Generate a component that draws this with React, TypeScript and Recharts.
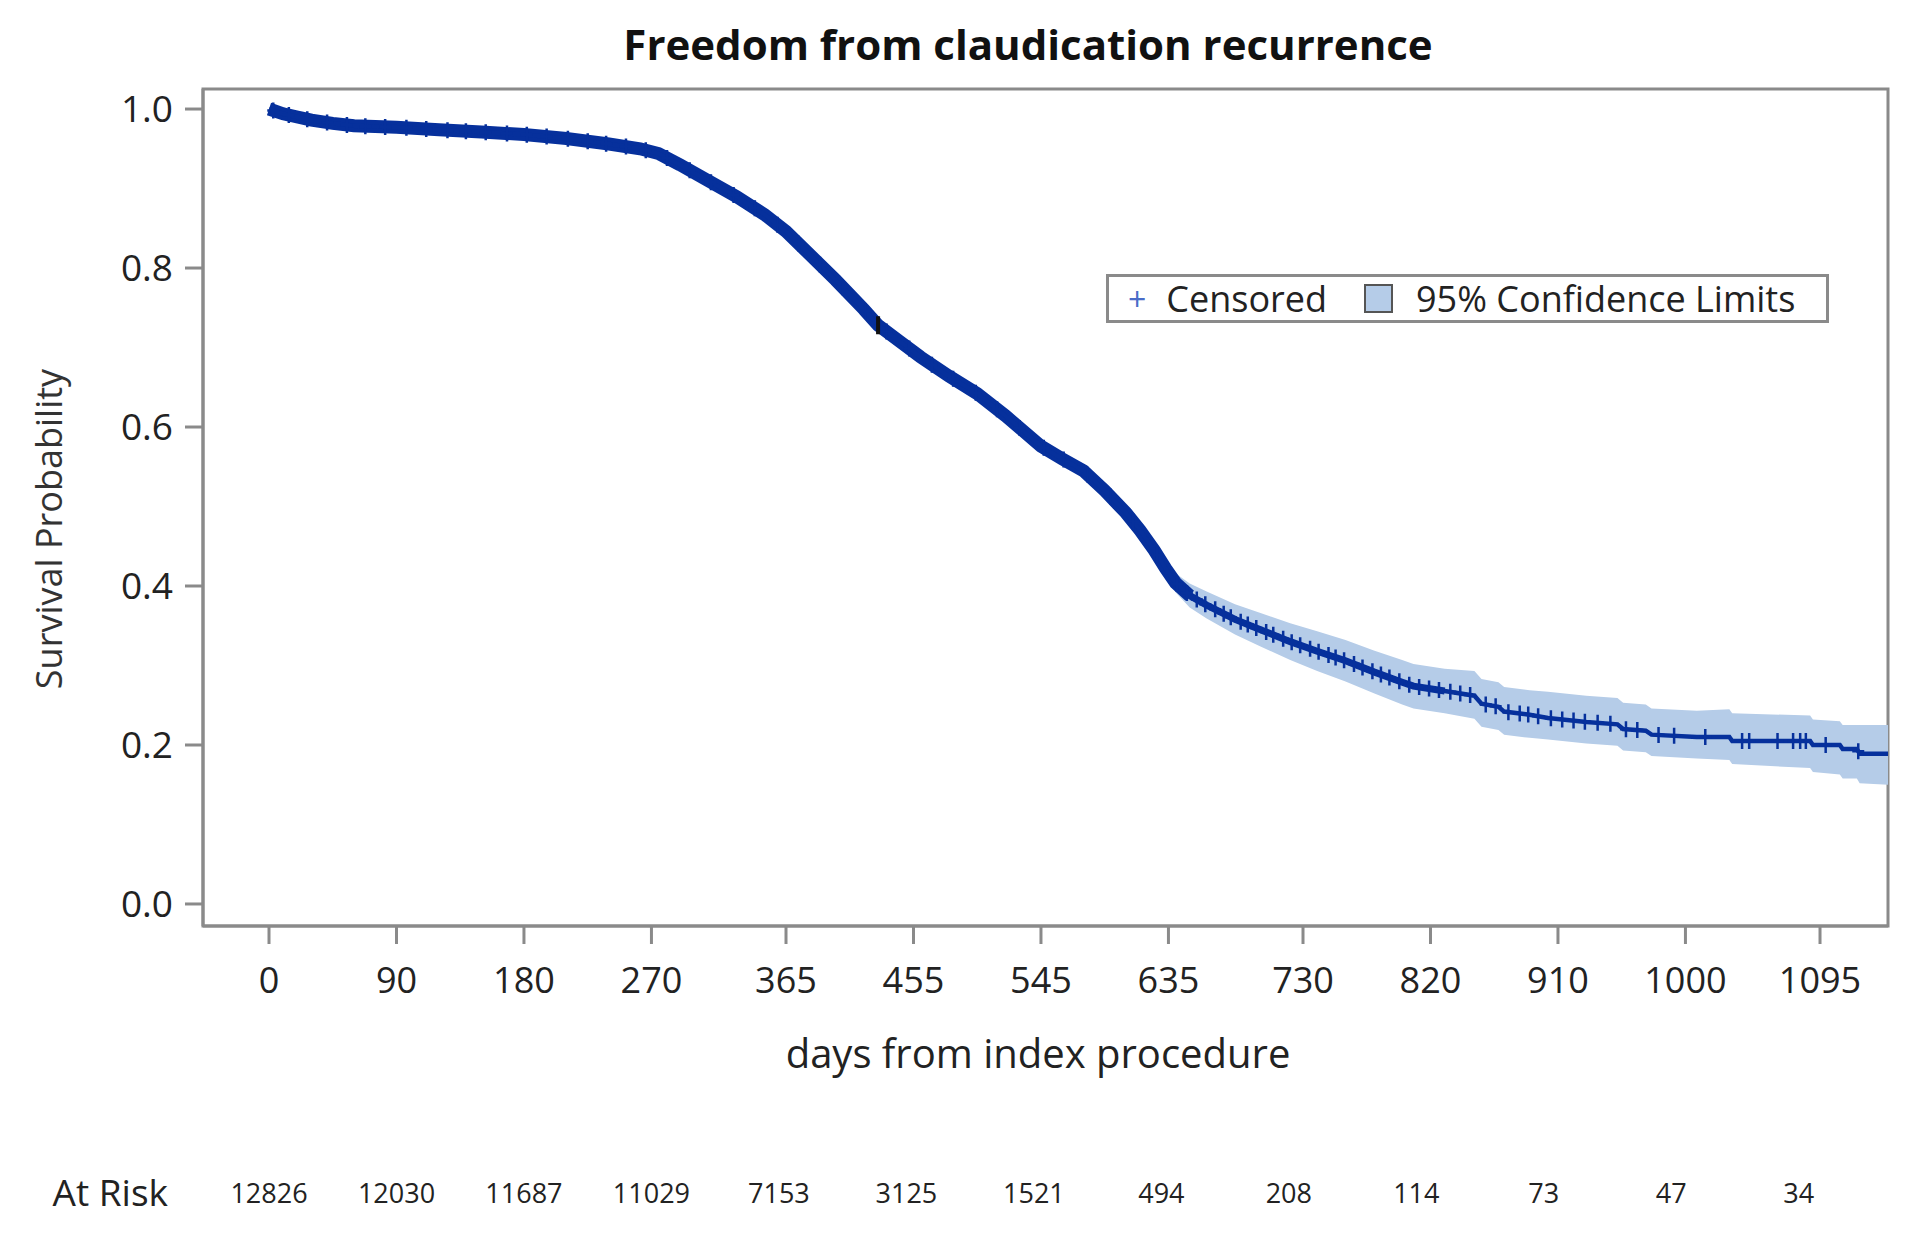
import React from "react";
import {
  ComposedChart,
  Area,
  Line,
  Scatter,
  XAxis,
  YAxis,
  ReferenceArea,
  Legend,
  Label,
} from "recharts";

// Kaplan-Meier estimate (days / survival / 95% CL)
const days = [
  0, 10, 20, 30, 45, 60, 90, 120, 150, 180, 210, 240, 262, 275, 290, 310, 330, 350, 365, 380,
  400, 420, 430, 445, 460, 480, 500, 520, 545, 560, 575, 590, 605, 615, 625, 633, 640, 650, 662,
  682, 700, 721, 740, 760, 780, 800, 808, 830, 851, 856, 868, 872, 890, 903, 930, 952, 956, 972,
  976, 1008, 1031, 1033, 1088, 1090, 1109, 1111, 1121, 1123, 1143,
];
const survival = [
  1.0, 0.994, 0.99, 0.986, 0.982, 0.979, 0.977, 0.974, 0.971, 0.968, 0.963, 0.956, 0.95, 0.944,
  0.93, 0.91, 0.89, 0.867, 0.846, 0.82, 0.785, 0.748, 0.728, 0.708, 0.688, 0.664, 0.642, 0.614,
  0.576, 0.56, 0.545, 0.52, 0.492, 0.47, 0.445, 0.422, 0.404, 0.388, 0.376, 0.358, 0.345, 0.33,
  0.318, 0.306, 0.292, 0.279, 0.274, 0.268, 0.262, 0.252, 0.248, 0.242, 0.238, 0.234, 0.229,
  0.226, 0.22, 0.218, 0.213, 0.21, 0.21, 0.205, 0.205, 0.2, 0.2, 0.195, 0.195, 0.189, 0.189,
];
const lowerCL = [
  0.999, 0.991, 0.987, 0.983, 0.979, 0.976, 0.974, 0.971, 0.968, 0.965, 0.96, 0.953, 0.947, 0.938,
  0.924, 0.904, 0.884, 0.861, 0.84, 0.814, 0.779, 0.742, 0.722, 0.702, 0.682, 0.658, 0.636, 0.608,
  0.568, 0.552, 0.537, 0.512, 0.484, 0.458, 0.433, 0.41, 0.392, 0.373, 0.359, 0.339, 0.324, 0.307,
  0.293, 0.28, 0.265, 0.251, 0.246, 0.24, 0.233, 0.223, 0.219, 0.213, 0.209, 0.207, 0.202, 0.199,
  0.193, 0.191, 0.186, 0.183, 0.181, 0.176, 0.171, 0.166, 0.163, 0.158, 0.158, 0.152, 0.15,
];
const upperCL = [
  1.0, 0.997, 0.993, 0.989, 0.985, 0.982, 0.98, 0.977, 0.974, 0.971, 0.966, 0.959, 0.953, 0.95,
  0.936, 0.916, 0.896, 0.873, 0.852, 0.826, 0.791, 0.754, 0.734, 0.714, 0.694, 0.67, 0.648, 0.62,
  0.584, 0.568, 0.553, 0.528, 0.5, 0.482, 0.457, 0.434, 0.416, 0.403, 0.393, 0.377, 0.366, 0.353,
  0.343, 0.332, 0.319, 0.307, 0.302, 0.296, 0.293, 0.283, 0.279, 0.273, 0.269, 0.267, 0.262, 0.259,
  0.253, 0.251, 0.246, 0.243, 0.245, 0.24, 0.237, 0.232, 0.23, 0.225, 0.225, 0.225, 0.225,
];

const censoredDays = [
  3, 14, 27, 41, 55, 68, 82, 97, 111, 126, 139, 153, 168, 182, 196, 211, 225, 238, 252, 266, 281,
  297, 312, 328, 343, 359, 374, 389, 405, 421, 436, 452, 468, 483, 499, 514, 530, 547, 561, 578,
  594, 610, 627, 641, 648, 655, 661, 668, 674, 679, 686, 691, 697, 704, 709, 716, 722, 728, 735,
  741, 748, 753, 759, 766, 772, 779, 785, 791, 798, 805, 812, 819, 826, 834, 841, 848, 859, 866,
  875, 883, 889, 896, 905, 913, 921, 929, 938, 947, 958, 966, 981, 992, 1014, 1040, 1045, 1065,
  1076, 1081, 1085, 1099, 1122,
];

const tickDays = [0, 90, 180, 270, 365, 455, 545, 635, 730, 820, 910, 1000, 1095];
const riskDays = [0, 90, 180, 270, 360, 450, 540, 630, 720, 810, 900, 990, 1080];
const atRisk = [12826, 12030, 11687, 11029, 7153, 3125, 1521, 494, 208, 114, 73, 47, 34];
const yTicks = [0, 0.2, 0.4, 0.6, 0.8, 1.0];

const BLUE = "#06309c";
const BAND = "#b5cce8";
const FRAME = "#8a8a8a";
const FONT = '"Open Sans", "DejaVu Sans", sans-serif';

// heavy censoring makes the early part of the curve look thick
const rows = days.map((d, i) => ({
  day: d,
  surv: survival[i],
  band: [lowerCL[i], upperCL[i]],
  dense: d <= 650 ? survival[i] : null,
  mid: d >= 640 && d <= 830 ? survival[i] : null,
}));

// value of the drawn curve at a censored time
function survAt(d: number) {
  for (let i = 1; i < days.length; i++) {
    if (d <= days[i]) {
      const t = (d - days[i - 1]) / (days[i] - days[i - 1]);
      return survival[i - 1] + t * (survival[i] - survival[i - 1]);
    }
  }
  return survival[survival.length - 1];
}
const censored = censoredDays.map((d) => ({ day: d, surv: survAt(d) }));
const marker = [{ day: 430, surv: survAt(430) }];

const PlusMark = (props: any) => {
  const { cx, cy } = props;
  return (
    <path
      d={`M${cx - 6},${cy}H${cx + 6}M${cx},${cy - 8}V${cy + 8}`}
      stroke={BLUE}
      strokeWidth={2.5}
      fill="none"
    />
  );
};

const BlackMark = (props: any) => {
  const { cx, cy } = props;
  return <rect x={cx - 2} y={cy - 9} width={4} height={18} fill="#111" />;
};

const RiskTick = (props: any) => {
  const { x, y, payload } = props;
  const i = riskDays.indexOf(payload.value);
  return (
    <text x={x} y={y} dy={47} textAnchor="middle" fontSize={27} fill="#222" fontFamily={FONT}>
      {atRisk[i]}
    </text>
  );
};

const LegendBox = () => (
  <div
    style={{
      boxSizing: "border-box",
      width: 723,
      height: 49,
      border: `3px solid ${FRAME}`,
      background: "#fff",
      display: "flex",
      alignItems: "center",
      fontFamily: FONT,
      fontSize: 36,
      color: "#222",
      whiteSpace: "nowrap",
    }}
  >
    <span style={{ color: "#4a6cc8", marginLeft: 19, fontSize: 32 }}>+</span>
    <span style={{ marginLeft: 20 }}>Censored</span>
    <span
      style={{
        display: "inline-block",
        width: 25,
        height: 25,
        background: BAND,
        border: "2px solid #555",
        marginLeft: 37,
      }}
    />
    <span style={{ marginLeft: 23 }}>95% Confidence Limits</span>
  </div>
);

export default function App() {
  return (
    <div
      style={{
        position: "absolute",
        left: 0,
        top: 0,
        width: 1920,
        height: 1236,
        background: "#fff",
        fontFamily: FONT,
      }}
    >
      <div
        style={{
          position: "absolute",
          left: 1028,
          top: 23,
          transform: "translateX(-50%)",
          fontSize: 42,
          lineHeight: "42px",
          fontWeight: 700,
          color: "#111",
          whiteSpace: "nowrap",
        }}
      >
        Freedom from claudication recurrence
      </div>

      <ComposedChart
        width={1920}
        height={1236}
        data={rows}
        margin={{ top: 89, right: 32, bottom: 0, left: 0 }}
      >
        <XAxis
          dataKey="day"
          type="number"
          domain={[-46.6, 1143]}
          allowDataOverflow
          ticks={tickDays}
          interval={0}
          height={230}
          tickSize={18}
          tickMargin={6}
          stroke={FRAME}
          strokeWidth={3}
          tick={{ fontSize: 36, fill: "#222", fontFamily: FONT, dy: 17 }}
        >
          <Label
            content={() => (
              <text
                x={1038}
                y={1068}
                textAnchor="middle"
                fontSize={40}
                fill="#222"
                fontFamily={FONT}
              >
                days from index procedure
              </text>
            )}
          />
        </XAxis>
        <XAxis
          xAxisId="risk"
          dataKey="day"
          type="number"
          domain={[-46.6, 1143]}
          allowDataOverflow
          ticks={riskDays}
          interval={0}
          height={80}
          axisLine={false}
          tickLine={false}
          tickSize={0}
          tickMargin={0}
          tick={<RiskTick />}
        >
          <Label
            content={() => (
              <text x={168} y={1206} textAnchor="end" fontSize={37} fill="#222" fontFamily={FONT}>
                At Risk
              </text>
            )}
          />
        </XAxis>
        <YAxis
          type="number"
          domain={[-0.0277, 1.0252]}
          allowDataOverflow
          ticks={yTicks}
          interval={0}
          width={203}
          tickSize={18}
          tickMargin={12}
          stroke={FRAME}
          strokeWidth={3}
          tickFormatter={(v: number) => v.toFixed(1)}
          tick={{ fontSize: 37, fill: "#222", fontFamily: FONT }}
        >
          <Label
            content={() => (
              <text
                x={48}
                y={529}
                transform="rotate(-90 48 529)"
                textAnchor="middle"
                dominantBaseline="central"
                fontSize={36}
                fill="#333"
                fontFamily={FONT}
              >
                Survival Probability
              </text>
            )}
          />
        </YAxis>

        <ReferenceArea
          x1={-46.6}
          x2={1143}
          y1={-0.0277}
          y2={1.0252}
          fill="none"
          stroke={FRAME}
          strokeWidth={3}
        />

        <Area
          dataKey="band"
          type="linear"
          fill={BAND}
          fillOpacity={1}
          stroke="none"
          isAnimationActive={false}
        />
        <Line
          dataKey="dense"
          type="linear"
          stroke={BLUE}
          strokeWidth={13}
          dot={false}
          isAnimationActive={false}
        />
        <Line
          dataKey="mid"
          type="linear"
          stroke={BLUE}
          strokeWidth={7}
          dot={false}
          isAnimationActive={false}
        />
        <Line
          dataKey="surv"
          type="linear"
          stroke={BLUE}
          strokeWidth={4.5}
          dot={false}
          isAnimationActive={false}
        />
        <Scatter data={censored} dataKey="surv" shape={<PlusMark />} isAnimationActive={false} />
        <Scatter data={marker} dataKey="surv" shape={<BlackMark />} isAnimationActive={false} />

        <Legend
          layout="horizontal"
          verticalAlign="middle"
          align="center"
          content={() => <LegendBox />}
          wrapperStyle={{ position: "absolute", left: 1106, top: 274, width: 723 }}
        />
      </ComposedChart>
    </div>
  );
}
